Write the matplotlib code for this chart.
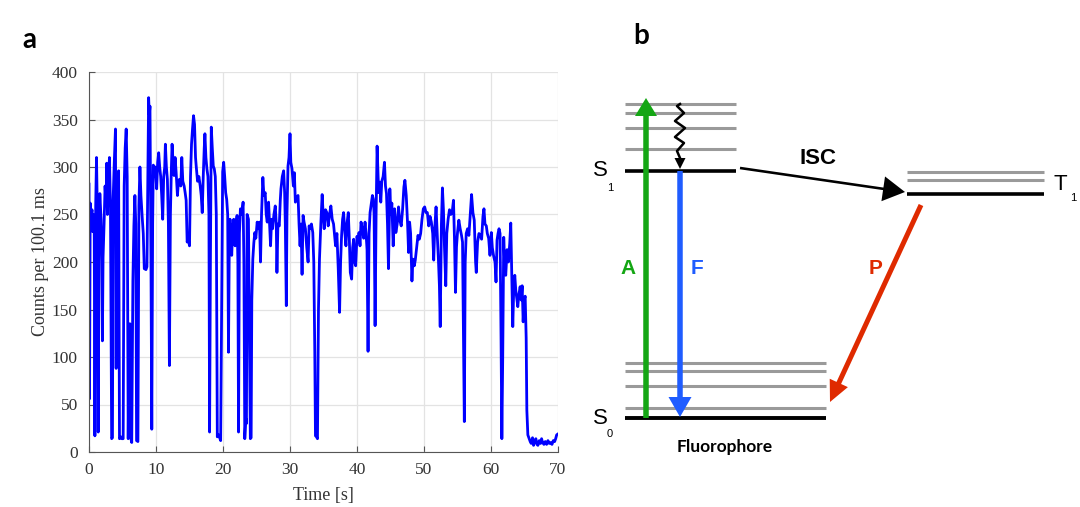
import numpy as np
import matplotlib.pyplot as plt
from matplotlib.patches import FancyArrow

# ---- panel a: single-molecule blinking trace ----
time_s = [
    0.0, 0.08, 0.18, 0.3, 0.45, 0.55, 0.65, 0.78, 0.88, 1.0, 1.12, 1.25, 1.38, 1.5, 1.62, 1.8, 1.92, 2.0,
    2.1, 2.25, 2.4, 2.55, 2.64, 2.75, 2.9, 3.05, 3.2, 3.38, 3.5, 3.6, 3.75, 3.95, 4.05, 4.15, 4.3, 4.42,
    4.55, 4.75, 4.9, 5.1, 5.25, 5.4, 5.55, 5.7, 5.85, 6.0, 6.1, 6.2, 6.38, 6.55, 6.7, 6.85, 6.98, 7.1,
    7.3, 7.45, 7.6, 7.75, 7.95, 8.1, 8.25, 8.5, 8.65, 8.8, 8.9, 9.0, 9.1, 9.25, 9.37, 9.5, 9.6, 9.75,
    9.9, 10.1, 10.25, 10.4, 10.55, 10.7, 10.85, 11.0, 11.15, 11.3, 11.4, 11.55, 11.7, 11.85, 12.0, 12.15,
    12.3, 12.4, 12.55, 12.7, 12.85, 13.0, 13.2, 13.35, 13.5, 13.7, 13.85, 14.0, 14.2, 14.35, 14.5, 14.65,
    14.8, 15.0, 15.15, 15.3, 15.45, 15.6, 15.75, 15.9, 16.0, 16.2, 16.4, 16.6, 16.75, 16.9, 17.05, 17.2,
    17.3, 17.45, 17.6, 17.75, 17.9, 18.0, 18.12, 18.25, 18.4, 18.55, 18.7, 18.85, 19.0, 19.15, 19.35, 19.5,
    19.65, 19.8, 19.95, 20.1, 20.25, 20.4, 20.55, 20.7, 20.82, 20.95, 21.05, 21.2, 21.3, 21.45, 21.6, 21.8,
    21.95, 22.1, 22.22, 22.32, 22.45, 22.6, 22.8, 23.0, 23.12, 23.25, 23.4, 23.5, 23.6, 23.8, 23.95, 24.08,
    24.2, 24.3, 24.45, 24.6, 24.75, 24.9, 25.1, 25.3, 25.45, 25.6, 25.75, 25.95, 26.1, 26.3, 26.45, 26.6,
    26.8, 26.95, 27.1, 27.25, 27.4, 27.6, 27.8, 27.95, 28.05, 28.2, 28.4, 28.55, 28.65, 28.85, 29.05, 29.2,
    29.3, 29.45, 29.55, 29.7, 29.85, 30.0, 30.12, 30.3, 30.5, 30.65, 30.8, 31.0, 31.2, 31.35, 31.5, 31.65,
    31.8, 31.95, 32.1, 32.3, 32.5, 32.7, 32.85, 33.0, 33.2, 33.4, 33.55, 33.7, 33.8, 33.95, 34.1, 34.25,
    34.4, 34.6, 34.8, 34.95, 35.1, 35.3, 35.5, 35.7, 35.9, 36.1, 36.3, 36.5, 36.8, 37.0, 37.2, 37.4,
    37.55, 37.7, 37.85, 38.0, 38.2, 38.35, 38.5, 38.7, 38.85, 39.0, 39.2, 39.35, 39.5, 39.65, 39.8, 40.0,
    40.15, 40.3, 40.45, 40.6, 40.8, 41.0, 41.2, 41.35, 41.5, 41.65, 41.8, 41.95, 42.1, 42.3, 42.45, 42.55,
    42.7, 42.85, 43.0, 43.15, 43.25, 43.4, 43.55, 43.7, 43.9, 44.1, 44.25, 44.4, 44.55, 44.7, 44.9, 45.05,
    45.2, 45.4, 45.6, 45.8, 46.0, 46.2, 46.35, 46.6, 46.8, 47.0, 47.15, 47.35, 47.55, 47.7, 47.85, 48.0,
    48.2, 48.35, 48.55, 48.7, 48.9, 49.1, 49.3, 49.5, 49.7, 49.9, 50.1, 50.3, 50.5, 50.7, 50.9, 51.1,
    51.3, 51.45, 51.6, 51.8, 52.0, 52.15, 52.3, 52.42, 52.6, 52.75, 52.9, 53.05, 53.25, 53.4, 53.6, 53.8,
    54.0, 54.2, 54.4, 54.55, 54.7, 54.85, 55.0, 55.2, 55.4, 55.6, 55.75, 55.9, 56.02, 56.15, 56.3, 56.5,
    56.7, 56.9, 57.1, 57.3, 57.5, 57.7, 57.8, 58.0, 58.2, 58.4, 58.6, 58.8, 58.95, 59.1, 59.3, 59.45,
    59.65, 59.85, 60.05, 60.2, 60.4, 60.6, 60.75, 60.9, 61.05, 61.2, 61.35, 61.5, 61.62, 61.75, 61.9, 62.05,
    62.2, 62.4, 62.6, 62.8, 62.95, 63.1, 63.25, 63.4, 63.55, 63.7, 63.85, 64.0, 64.15, 64.35, 64.5, 64.65,
    64.8, 64.95, 65.1, 65.25, 65.35, 65.5, 65.7, 65.85, 66.0, 66.2, 66.35, 66.5, 66.7, 66.85, 67.0, 67.2,
    67.4, 67.55, 67.7, 67.9, 68.1, 68.3, 68.5, 68.7, 68.9, 69.1, 69.3, 69.5, 69.65, 69.8, 70.0,
]
counts = [
    282, 56, 262, 245, 255, 232, 250, 240, 17, 260, 310, 250, 21, 240, 272, 245, 200, 117,
    205, 240, 280, 260, 304, 250, 285, 310, 260, 14, 15, 265, 300, 340, 88, 270, 250, 296,
    14, 16, 14, 14, 280, 320, 340, 290, 14, 130, 135, 16, 10, 180, 238, 270, 240, 12,
    11, 260, 300, 270, 246, 230, 193, 192, 195, 300, 373, 355, 364, 200, 24, 240, 302, 290,
    300, 277, 305, 315, 300, 290, 270, 245, 290, 300, 324, 300, 287, 240, 91, 250,
    300, 324, 305, 291, 310, 295, 270, 285, 287, 280, 310, 285, 280, 273, 265, 221,
    225, 217, 290, 324, 340, 354, 345, 310, 301, 285, 290, 280, 270, 252, 290, 320,
    335, 310, 298, 290, 250, 21, 200, 342, 320, 301, 298, 290, 250, 16, 18, 15,
    12, 150, 295, 305, 290, 273, 266, 250, 105, 230, 245, 225, 207, 235, 245, 217,
    240, 249, 200, 21, 230, 256, 250, 263, 200, 14, 35, 30, 250, 245, 120, 14,
    15, 160, 203, 220, 231, 225, 242, 235, 242, 200, 250, 289, 270, 273, 250, 242,
    263, 240, 217, 245, 235, 250, 259, 240, 189, 240, 238, 265, 277, 290, 296, 273,
    240, 154, 250, 301, 310, 335, 305, 298, 280, 294, 263, 268, 270, 240, 217, 240,
    187, 249, 242, 235, 215, 200, 238, 235, 240, 231, 200, 105, 17, 16, 14, 150,
    203, 240, 271, 250, 235, 255, 252, 238, 250, 259, 245, 240, 217, 230, 193, 147,
    200, 228, 245, 252, 230, 217, 240, 252, 225, 189, 182, 215, 224, 200, 196, 227,
    221, 231, 217, 242, 235, 225, 242, 230, 213, 106, 230, 252, 260, 270, 266, 250,
    133, 250, 322, 290, 273, 284, 263, 285, 290, 305, 280, 272, 240, 193, 277, 250,
    262, 217, 256, 231, 240, 258, 245, 238, 255, 279, 286, 270, 240, 210, 242, 230,
    180, 203, 196, 202, 215, 228, 224, 230, 245, 256, 258, 252, 252, 238, 248, 242,
    230, 202, 235, 258, 225, 203, 175, 132, 240, 278, 255, 217, 175, 230, 245, 255,
    250, 252, 265, 224, 168, 216, 231, 244, 235, 228, 221, 120, 32, 200, 230, 235,
    228, 250, 271, 252, 244, 200, 189, 221, 230, 228, 224, 248, 256, 240, 238, 230,
    225, 207, 231, 215, 206, 200, 179, 223, 230, 235, 230, 120, 14, 100, 226, 195,
    186, 213, 200, 220, 241, 186, 132, 174, 186, 170, 161, 153, 165, 174, 160, 175,
    137, 160, 164, 120, 44, 18, 14, 11, 9, 15, 7, 12, 14, 8, 7, 12,
    9, 14, 10, 8, 11, 8, 12, 9, 10, 8, 12, 11, 14, 18, 19,
]
x_ticks = list(range(0, 71, 10))
y_ticks = list(range(0, 401, 50))

# ---- panel b: energy levels of the fluorophore (diagram units = pixels) ----
s1_vib = [104, 113, 128, 149]
s1_level = 171
s0_vib = [363, 371, 386, 408]
s0_level = 418
t1_vib = [172, 180]
t1_level = 194

serif = ['Liberation Serif', 'DejaVu Serif']
fig = plt.figure(figsize=(10.8, 5.07), dpi=100)

ax = fig.add_axes([89 / 1080, 55 / 507, 469 / 1080, 380 / 507])
ax.plot(time_s, counts, color='#0000ff', linewidth=2.0)
ax.set_xlim(0, 70)
ax.set_ylim(0, 400)
ax.set_xticks(x_ticks)
ax.set_yticks(y_ticks)
ax.grid(True, color='#e3e3e3', linewidth=0.9)
ax.set_axisbelow(True)
for side in ['top', 'right']:
    ax.spines[side].set_visible(False)
for side in ['left', 'bottom']:
    ax.spines[side].set_color('#555555')
    ax.spines[side].set_linewidth(0.8)
ax.tick_params(direction='in', length=4, width=0.8, color='#555555', labelcolor='#333333', labelsize=12.5)
ax.tick_params(axis='x', pad=7)
ax.tick_params(axis='y', pad=8)
for lab in ax.get_xticklabels() + ax.get_yticklabels():
    lab.set_family(serif)
ax.set_xlabel('Time [s]', family=serif, fontsize=13, color='#333333', labelpad=7)
ax.set_ylabel('Counts per 100.1 ms', family=serif, fontsize=13, color='#333333', labelpad=2)

# overlay in pixel coordinates for the diagram and panel letters
ov = fig.add_axes([0, 0, 1, 1], facecolor='none')
ov.set_xlim(0, 1080)
ov.set_ylim(507, 0)
ov.axis('off')

bold_sans = ['Lato', 'DejaVu Sans']
ov.text(22, 40, 'a', fontsize=20, fontweight='bold', family=bold_sans, ha='left', va='center')
ov.text(633, 36, 'b', fontsize=20, fontweight='bold', family=bold_sans, ha='left', va='center')

grey = '#9a9a9a'
for y in s1_vib:
    ov.plot([625, 736], [y, y], color=grey, linewidth=2.2, solid_capstyle='butt', zorder=2)
ov.plot([625, 736], [s1_level, s1_level], color='black', linewidth=2.6, solid_capstyle='butt', zorder=2)
for y in s0_vib:
    ov.plot([625, 826], [y, y], color=grey, linewidth=2.2, solid_capstyle='butt', zorder=2)
ov.plot([625, 826], [s0_level, s0_level], color='black', linewidth=2.8, solid_capstyle='butt', zorder=2)
for y in t1_vib:
    ov.plot([907, 1044], [y, y], color=grey, linewidth=2.2, solid_capstyle='butt', zorder=2)
ov.plot([907, 1044], [t1_level, t1_level], color='black', linewidth=2.6, solid_capstyle='butt', zorder=2)

green = '#14a614'
blue = '#1f5cff'
red = '#df2a00'
# absorption
ov.add_patch(FancyArrow(646, s0_level, 0, 98 - s0_level, width=5.5, head_width=22, head_length=18,
                        length_includes_head=True, color=green, linewidth=0, zorder=3))
# fluorescence
ov.add_patch(FancyArrow(680, s1_level, 0, s0_level - 1 - s1_level, width=5.5, head_width=23, head_length=20,
                        length_includes_head=True, color=blue, linewidth=0, zorder=3))
# vibrational relaxation (zigzag)
zig_x = [680, 677, 684, 675, 685, 675, 684, 677, 680]
zig_y = [104, 106, 113, 121, 128, 137, 143, 151, 158]
ov.plot(zig_x, zig_y, color='black', linewidth=1.8, zorder=3)
ov.add_patch(FancyArrow(680, 157, 0, 12, width=0.1, head_width=11, head_length=11,
                        length_includes_head=True, color='black', linewidth=0, zorder=3))
# intersystem crossing
ov.add_patch(FancyArrow(740, 168, 165, 24, width=2.6, head_width=25, head_length=22,
                        length_includes_head=True, color='black', linewidth=0, zorder=3))
# phosphorescence
ov.add_patch(FancyArrow(921, 205, -91, 197, width=5, head_width=20, head_length=21,
                        length_includes_head=True, color=red, linewidth=0, zorder=3))

lab_sans = ['Liberation Sans', 'DejaVu Sans']
ov.text(818, 158, 'ISC', fontsize=16, fontweight='bold', family=lab_sans, ha='center', va='center')
ov.text(628, 268, 'A', fontsize=15, fontweight='bold', family=lab_sans, color=green, ha='center', va='center')
ov.text(697, 268, 'F', fontsize=15, fontweight='bold', family=lab_sans, color=blue, ha='center', va='center')
ov.text(876, 268, 'P', fontsize=15, fontweight='bold', family=lab_sans, color=red, ha='center', va='center')
ov.text(725, 447, 'Fluorophore', fontsize=12.5, fontweight='bold', family=bold_sans, ha='center', va='center')

ov.text(600, 170, 'S', fontsize=16, family=lab_sans, ha='center', va='center')
ov.text(610, 188, '1', fontsize=8, family=lab_sans, ha='center', va='center')
ov.text(600, 419, 'S', fontsize=16, family=lab_sans, ha='center', va='center')
ov.text(610, 434, '0', fontsize=8, family=lab_sans, ha='center', va='center')
ov.text(1060, 184, 'T', fontsize=16, family=lab_sans, ha='center', va='center')
ov.text(1073, 198, '1', fontsize=8, family=lab_sans, ha='center', va='center')

fig.savefig('out.png', dpi=100)
